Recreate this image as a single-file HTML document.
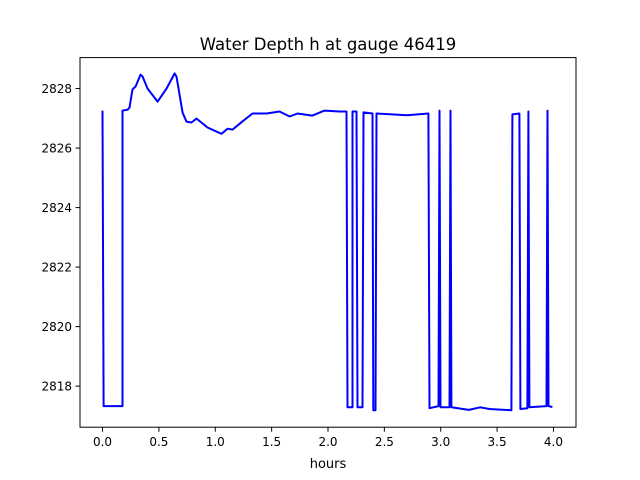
<!DOCTYPE html>
<html><head><meta charset="utf-8"><style>
html,body{margin:0;padding:0;background:#fff;width:640px;height:480px;overflow:hidden}
text{font-family:"DejaVu Sans","Liberation Sans",sans-serif}
</style></head><body>
<svg id="chart" width="640" height="480">
<rect width="640" height="480" fill="#fff"/>
<text x="328" y="50" font-size="16.5" text-anchor="middle">Water Depth h at gauge 46419</text>
<g id="ticks"></g>
<path id="line" fill="none" stroke="#0000ff" stroke-width="2" stroke-linejoin="round"/>
<rect x="80" y="57.6" width="496" height="369.6" fill="none" stroke="#000" stroke-width="1"/>
<text x="328" y="468" font-size="13" text-anchor="middle">hours</text>
</svg>
<script>
const hours=[0,0.009,0.177,0.177,0.222,0.239,0.266,0.293,0.337,0.355,0.399,0.488,0.568,0.639,0.656,0.710,0.745,0.789,0.834,0.931,1.055,1.109,1.153,1.242,1.330,1.455,1.570,1.659,1.729,1.862,1.969,2.102,2.164,2.173,2.217,2.217,2.253,2.262,2.306,2.315,2.395,2.402,2.421,2.430,2.70,2.891,2.900,2.980,2.989,2.998,3.078,3.087,3.095,3.25,3.35,3.432,3.627,3.636,3.698,3.707,3.769,3.778,3.787,3.938,3.947,3.956,3.991];
const depth=[2827.26,2817.33,2817.33,2827.26,2827.29,2827.36,2827.97,2828.07,2828.47,2828.40,2828.0,2827.56,2828.0,2828.51,2828.40,2827.19,2826.89,2826.86,2826.99,2826.69,2826.48,2826.65,2826.62,2826.9,2827.16,2827.16,2827.23,2827.06,2827.16,2827.09,2827.26,2827.23,2827.23,2817.29,2817.29,2827.23,2827.23,2817.29,2817.29,2827.2,2827.16,2817.19,2817.19,2827.16,2827.1,2827.16,2817.26,2817.33,2827.26,2817.29,2817.29,2827.26,2817.29,2817.2,2817.29,2817.23,2817.19,2827.13,2827.16,2817.23,2817.26,2827.23,2817.29,2817.33,2827.26,2817.33,2817.3];
const xTicks=[0,0.5,1,1.5,2,2.5,3,3.5,4];
const yTicks=[2818,2820,2822,2824,2826,2828];
const L=80,R=576,T=57.6,B=427.2,x0=-0.2,x1=4.2,y0=2816.62,y1=2829.04;
const sx=v=>L+(v-x0)/(x1-x0)*(R-L);
const sy=v=>B-(v-y0)/(y1-y0)*(B-T);
const NS="http://www.w3.org/2000/svg";
const g=document.getElementById('ticks');
function mk(tag,a){const e=document.createElementNS(NS,tag);for(const k in a)e.setAttribute(k,a[k]);g.appendChild(e);return e;}
xTicks.forEach(t=>{
  const l=mk('line',{x1:sx(t),x2:sx(t),y1:B,y2:B+4.5,stroke:'#000'});
  
  
  const tx=mk('text',{x:sx(t),y:B+19,'font-size':'12','text-anchor':'middle'});
  tx.textContent=t.toFixed(1);
  
  
});
yTicks.forEach(t=>{
  const l=mk('line',{x1:L-4.5,x2:L,y1:sy(t),y2:sy(t),stroke:'#000'});
  
  
  const tx=mk('text',{x:L-8,y:sy(t)+4.5,'font-size':'12','text-anchor':'end'});
  tx.textContent=t;
  
  
});
document.getElementById('line').setAttribute('d',hours.map((h,i)=>(i?'L':'M')+sx(h).toFixed(1)+' '+sy(depth[i]).toFixed(1)).join(' '));
</script>
</body></html>
